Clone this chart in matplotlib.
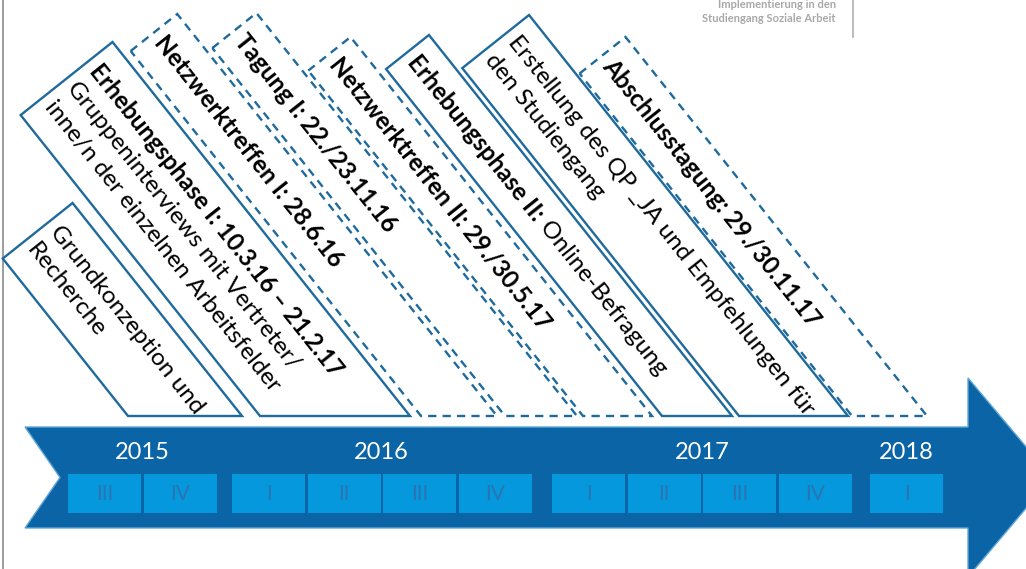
import numpy as np
import matplotlib.pyplot as plt
from matplotlib.patches import Polygon, Rectangle

FONT = ['Lato', 'DejaVu Sans']
plt.rcParams['font.family'] = FONT

# Zeitleiste: Jahre und Quartale
years = ['2015', '2016', '2017', '2018']
year_quarters = [['III', 'IV'], ['I', 'II', 'III', 'IV'], ['I', 'II', 'III', 'IV'], ['I']]

# Projektschritte (Zeilen, jede Zeile aus Segmenten (Text, fett?))
events = [
    [[('Grundkonzeption und', False)], [('Recherche', False)]],
    [[('Erhebungsphase I: 10.3.16 – 21.2.17', True)],
     [('Gruppeninterviews mit Vertreter/', False)],
     [('inne/n der einzelnen Arbeitsfelder', False)]],
    [[('Netzwerktreffen I: 28.6.16', True)]],
    [[('Tagung I: 22./23.11.16', True)]],
    [[('Netzwerktreffen II: 29./30.5.17', True)]],
    [[('Erhebungsphase II:', True), (' Online-Befragung', False)]],
    [[('Erstellung des QP _JA und Empfehlungen für', False)], [('den Studiengang', False)]],
    [[('Abschlusstagung: 29./30.11.17', True)]],
]
event_dashed = [False, False, True, True, True, False, False, True]

# Layout der schraegen Kaesten (Pixel)
box_left = [128, 260, 421, 505, 583, 662, 739, 852]
box_right = [242, 410, 497, 577, 652, 732, 848, 927]
box_top = [203, 42, 14, 13, 37, 35, 15, 37]
box_base = 416
theta = np.radians(51.5)

header = ['Implementierung in den', 'Studiengang Soziale Arbeit']

DARK = '#0a64a5'
LIGHT = '#0598dc'
QTXT = '#2a74b4'
LINE = '#1f6a9c'

fig = plt.figure(figsize=(10.26, 5.69), dpi=100)
ax = fig.add_axes([0, 0, 1, 1])
ax.set_xlim(0, 1026)
ax.set_ylim(569, 0)
ax.axis('off')
renderer = fig.canvas.get_renderer()

# linker Rand, Kopfzeile
ax.plot([2.5, 2.5], [0, 569], color='#8c8c8c', lw=1.2)
ax.plot([853, 853], [0, 37], color='#b0b0b0', lw=1.2)
ax.text(836, 4, header[0], ha='right', va='center', fontsize=8, fontweight='bold', color='#a8a8a8')
ax.text(836, 18, header[1], ha='right', va='center', fontsize=8, fontweight='bold', color='#a8a8a8')

# Pfeil
y0, y1, ym = 427, 528, 477.5
arrow = [(25, y0), (968, y0), (968, 378), (1052, ym), (968, 577), (968, y1), (25, y1), (60, ym)]
ax.add_patch(Polygon(arrow, closed=True, facecolor=DARK, edgecolor='#5fa6d8', lw=1.0, zorder=1))

# Quartale
pitch, qw = 75.5, 73
year_gap = [0, 13, 31, 47]
k = 0
for yi, (yr, qs) in enumerate(zip(years, year_quarters)):
    xs = []
    for q in qs:
        x = 68 + k * pitch + year_gap[yi]
        ax.add_patch(Rectangle((x, 474), qw, 39, facecolor=LIGHT, edgecolor='none', zorder=2))
        ax.text(x + qw / 2, 494, q, ha='center', va='center', fontsize=15, color=QTXT, zorder=3)
        xs.append(x)
        k += 1
    ax.text((xs[0] + xs[-1] + qw) / 2, 452, yr, ha='center', va='center', fontsize=17,
            color='white', zorder=3)


def text_width(s, bold, size):
    t = ax.text(0, 0, s, fontsize=size, fontweight='bold' if bold else 'normal')
    w = t.get_window_extent(renderer).width
    t.remove()
    return w


u = np.array([np.cos(theta), np.sin(theta)])
n = np.array([-np.sin(theta), np.cos(theta)])
FS = 17.5
LS = 29

for i, lines in enumerate(events):
    br = np.array([box_right[i], box_base])
    tr = np.array([br[0] - (box_base - box_top[i]) / np.tan(theta), box_top[i]])
    w = (box_right[i] - box_left[i]) * np.sin(theta)
    tl = tr + w * n
    bl = np.array([box_left[i], box_base])
    ls = (0, (3.5, 2.6)) if event_dashed[i] else '-'
    ax.add_patch(Polygon([tl, tr, br, bl], closed=True, facecolor='none', edgecolor=LINE,
                         lw=1.7, linestyle=ls, joinstyle='miter', zorder=4))
    nl = len(lines)
    for j, segs in enumerate(lines):
        p = tr + 8 * u + (w / 2 + (j - (nl - 1) / 2) * LS) * n
        for s, bold in segs:
            ax.text(p[0], p[1], s, fontsize=FS, fontweight='bold' if bold else 'normal',
                    rotation=-np.degrees(theta), rotation_mode='anchor', ha='left', va='center',
                    color='black', zorder=5)
            p = p + text_width(s, bold, FS) * u

fig.savefig('out.png', dpi=100)
